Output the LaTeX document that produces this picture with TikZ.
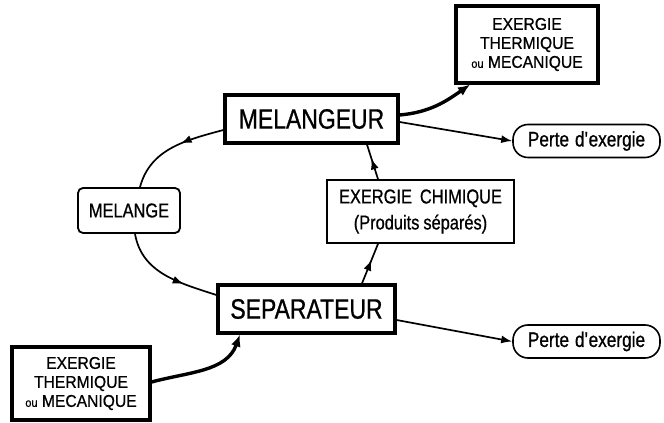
\documentclass[tikz,border=0pt]{standalone}
\usepackage{fontspec}
\setmainfont{Liberation Sans}
\newfontfamily\lettA[FakeStretch=0.82,FakeBold=0.8]{Liberation Sans}
\newfontfamily\lettB[FakeStretch=0.92,FakeBold=0.8]{Liberation Sans}
\usetikzlibrary{arrows.meta,decorations.markings,calc}
\tikzset{
  bigbox/.style={draw, line width=3.2pt, inner sep=0pt, align=center},
  thinbox/.style={draw, line width=1.8pt, inner sep=0pt, align=center},
  ovalbox/.style={draw, line width=1.6pt, rounded corners=15pt, inner sep=0pt, minimum width=147pt, minimum height=33pt},
  flow/.style={line width=1.7pt},
  heavy/.style={line width=3.4pt, -{Latex[length=12pt,width=10pt]}},
  endarrow/.style={flow, -{Latex[length=11pt,width=8pt]}},
  midarrow/.style={flow, postaction={decorate}, decoration={markings, mark=at position #1 with {\arrow{Latex[length=11pt,width=8pt]}}}},
  etmtext/.style={font=\lettB\fontsize{17}{19}\selectfont}
}
\begin{document}
\begin{tikzpicture}[x=1pt,y=1pt]
\useasboundingbox (0,0) rectangle (664,423);

\node[bigbox, minimum width=173pt, minimum height=48pt] (mgr) at (311.5,304) {\lettA\fontsize{28}{30}\selectfont MELANGEUR};
\node[bigbox, minimum width=177pt, minimum height=48pt] (sep) at (306.5,114) {\lettA\fontsize{28}{30}\selectfont SEPARATEUR};
\node[bigbox, minimum width=142pt, minimum height=77pt, etmtext] (etm1) at (527,378.5) {EXERGIE\\THERMIQUE\\{\fontsize{12}{19}\selectfont ou} MECANIQUE};
\node[bigbox, minimum width=138pt, minimum height=73pt, etmtext] (etm2) at (81,39.5) {EXERGIE\\THERMIQUE\\{\fontsize{12}{19}\selectfont ou} MECANIQUE};
\node[thinbox, rounded corners=5pt, minimum width=102pt, minimum height=45pt] (mel) at (129,212.5) {\lettA\fontsize{20}{22}\selectfont MELANGE};
\node[thinbox, minimum width=187pt, minimum height=63pt, font=\lettA\fontsize{20}{26}\selectfont] (chim) at (420.5,211.5) {EXERGIE\hspace{8pt}CHIMIQUE\\(Produits\hspace{4pt}séparés)};
\node[ovalbox] (p1) at (586.5,282) {\lettA\fontsize{21}{24}\selectfont Perte\hspace{6pt}d\textquotesingle exergie};
\node[ovalbox] (p2) at (586.5,81.5) {\lettA\fontsize{21}{24}\selectfont Perte\hspace{6pt}d\textquotesingle exergie};

\coordinate (a1) at ([yshift=4pt]mgr.east);
\coordinate (a2) at ([xshift=-57pt]etm1.south);
\draw[heavy] (a1) to[out=5, in=215] (a2);

\draw[endarrow] ([yshift=-3pt]mgr.east) -- (p1.west);

\coordinate (b1) at ([yshift=-11pt]mgr.west);
\coordinate (b2) at ([xshift=11pt]mel.north);
\draw[midarrow=0.42] (b1) to[out=195, in=75] (b2);

\coordinate (c1) at ([xshift=6pt]mel.south);
\coordinate (c2) at ([yshift=14pt]sep.west);
\draw[midarrow=0.68] (c1) to[out=-80, in=162] (c2);

\coordinate (d1) at ([xshift=55.5pt]sep.north);
\coordinate (d2) at ([xshift=-42.5pt]chim.south);
\draw[midarrow=0.6] (d1) -- (d2);

\coordinate (e1) at ([xshift=-42.5pt]chim.north);
\coordinate (e2) at ([xshift=55.5pt]mgr.south);
\draw[midarrow=0.6] (e1) -- (e2);

\draw[endarrow] ([yshift=-11pt]sep.east) -- (p2.west);

\coordinate (f1) at ([yshift=1.5pt]etm2.east);
\coordinate (f2) at ([xshift=-66.5pt]sep.south);
\draw[heavy] (f1) to[out=15, in=-110] (f2);
\end{tikzpicture}
\end{document}
